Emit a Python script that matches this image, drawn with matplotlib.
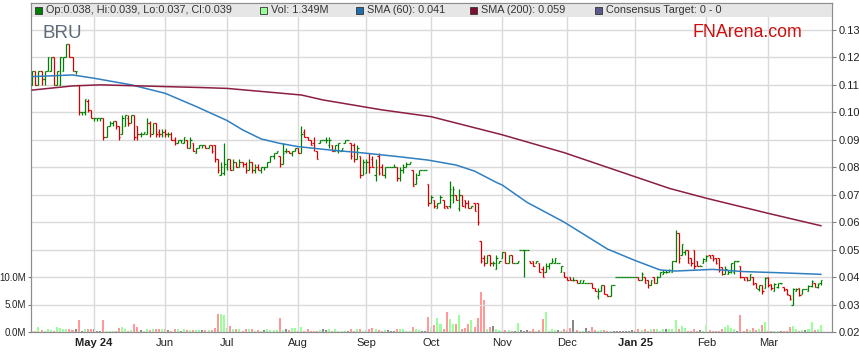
# -*- coding: utf-8 -*-
import numpy as np
import pandas as pd
import matplotlib
matplotlib.use('Agg')
import matplotlib.pyplot as plt
from matplotlib.collections import LineCollection
from matplotlib.patches import Rectangle

plt.rcParams['font.family'] = ['Liberation Sans', 'DejaVu Sans']

# trading days shown
days = pd.bdate_range('2024-04-03', '2025-03-26')

# OHLC in tenths of a cent (x 0.001 $), one row per month Apr 24 .. Mar 25
open_ = [110,115,110,115,112,115,115,120,110,110,115,120,125,120,115,110,100,100,104,101,
         98,98,98,98,91,95,96,97,95,92,95,98,96,99,95,92,92,92,96,92,96,93,92,
         93,92,92,90,89,90,89,90,87,89,85,87,88,88,87,88,88,83,77,78,
         80,83,79,82,80,82,81,79,82,79,80,79,80,80,82,84,85,84,81,86,86,85,86,
         87,85,93,91,90,89,86,89,90,90,88,88,86,86,86,89,90,89,88,83,84,77,
         78,82,83,77,84,80,77,80,80,80,80,76,79,80,81,79,74,77,79,79,74,
         67,68,65,67,68,66,66,70,70,65,70,68,67,65,67,67,53,47,45,48,45,43,45,
         47,49,45,48,45,45,50,50,50,46,46,45,45,43,42,44,45,45,45,42,42,
         40,40,39,39,38,38,38,38,38,36,33,35,37,34,33,37,40,40,40,40,40,40,
         40,40,39,40,39,37,40,38,40,41,42,42,42,46,56,48,49,50,47,50,46,44,45,
         46,48,48,47,47,43.8,41,41,42,42,46,44,40,40,39,40,37.7,35.5,37,36,
         40,37.5,35,36.5,37.7,36.5,35.5,33.5,30,35,36,34,35.5,35,36.7,38,36.5,38]
high = [115,115,115,115,115,120,120,120,115,120,120,125,125,120,115,110,100,105,105,101,
        98,98,98,98,95,97,97,97,95,99,99,99,99,99,95,93,93,98,97,96,96,94,94,
        94,93,93,91,90,90,91,90,91,89,87,88,88,88,88,88,88,83,82,89,
        83,83,83,82,83,82,82,83,82,81,81,80,80,82,84,85,86,84,89,87,86,86,87,
        87,95,94,91,90,91,86,90,90,91,91,88,88,89,87,90,90,89,89,88,84,83,
        83,85,84,83,85,81,80,80,80,81,80,80,81,82,82,79,78,79,79,79,74,
        70,68,67,70,68,66,75,73,70,72,70,68,68,66,67,67,53,48,48,48,46,48,46,
        49,49,48,48,45,46,50,50,50,46,46,46,45,44,45,45,47,47,45,44,42,
        40,40,40,39,39,39,38,38,38,36,36,37,37,34,37,37,40,40,40,40,40,40,
        40,40,42,40,39,39,40,40.5,42,42.5,42.5,43,46,57,56,52,50,50,47,50,46,44.5,46.8,
        48,48,48,47,47,43.8,44,42.5,45,46,46,44,40,40,41,40,37.7,37,37,40,
        40,37.5,37.7,37.7,37.7,36.5,35.5,33.5,36,36,36,35.5,35.5,37,38.9,38,38,39]
low = [110,110,110,110,110,115,115,110,110,110,115,120,120,115,114,99,99,99,100,98,
       97,97,97,90,91,95,95,94,90,92,95,95,96,90,90,91,92,92,91,92,91,91,91,
       91,91,90,88,89,89,89,87,87,86,85,87,87,87,87,85,82,78,77,77,
       79,79,79,80,80,80,78,79,78,78,79,78,79,80,82,83,85,80,81,85,85,84,86,
       85,85,91,90,88,86,83,89,90,89,87,86,86,85,86,89,90,83,82,83,76,77,
       78,78,80,75,77,77,76,80,80,80,75,75,78,80,81,73,74,77,79,79,66,
       67,65,65,67,65,65,65,67,68,64,66,65,65,65,64,59,45,44,45,44,44,43,45,
       47,45,45,45,45,45,50,40,50,45,44,45,42,40,42,43,45,45,45,42,40,
       39,39,38.5,38,38,38,38,38,36,35,32,35,34,33,33,37,40,40,40,40,40,40,
       40,39,39,38,36,37,38,38,40,41,41.5,42,42,45.5,45,48,48,45,44,43,44,44,45,
       46,46.8,46,44.8,42,40.7,41,41,41.5,41,45.5,39.5,39,38.7,39,37,36,35,34,36,
       36.5,35.3,35,36,37.5,35,33.5,31.6,29.8,35,33,34,35.5,35,36.5,36.3,36,37]
close = [115,110,115,112,115,120,120,110,115,120,120,125,120,115,115,100,100,105,101,98,
         98,98,98,91,95,96,97,95,91,98,99,96,99,91,92,92,93,96,92,96,92,92,93,
         92,92,90,89,90,90,91,87,90,86,87,88,88,87,88,86,83,79,80,81,
         83,79,82,80,82,81,79,82,79,80,79,80,80,82,84,85,86,81,85,86,85,86,87,
         85,92,91,90,88,87,83,90,90,90,90,86,88,89,87,90,90,84,83,87,77,82,
         82,80,80,80,78,77,80,80,80,80,76,79,80,81,82,73,76,79,79,79,67,
         69,66,67,69,65,65,72,72,68,70,66,67,65,66,64,60,46,45,48,45,45,47,46,
         49,45,48,45,45,46,50,50,50,45,44,46,42,40,44,45,46,47,45,44,40,
         39,39,39,38,39,39,38,38,36,35,35,37,34,33,37,37,40,40,40,40,40,40,
         40,39,41,38,37,39,38,40,42,42,42,42.5,46,56,47,52,50,45,45,44,44,44,46.5,
         47.5,47,46.5,45,42.5,41,43,42,45,46,46,40,39,39,41,37.5,36,37,35,39.5,
         37,36,37.5,37.7,37.7,35.2,34,32,35.5,35.8,33.5,35.5,35.5,36.7,38.5,36.5,37.5,39]

# volume, millions of shares
volume = [0.1,0.1,0.85,0.3,0.1,0.5,0.3,0.25,0.85,0.67,0.5,0.5,0.5,0.3,0.5,2.1,0.1,0.5,0.5,0.5,
          0.5,0.1,0.1,2.1,0.25,0.1,0.1,0.25,0.67,1.0,0.6,0.25,0.3,1.5,0.85,0.3,0.25,0.6,0.4,0.5,0.5,0.5,0.5,
          0.5,0.3,0.25,0.6,0.6,0.1,0.5,0.35,0.4,0.3,0.3,0.4,0.3,0.3,0.4,0.4,0.67,3.3,3.3,3.1,
          0.8,1.1,0.6,0.6,0.5,0.1,0.5,0.6,0.5,0.1,0.3,0.25,0.3,0.6,0.3,0.3,0.35,2.6,0.4,0.5,0.3,0.8,0.8,
          0.25,0.9,0.1,0.6,0.1,0.25,0.25,0.3,0.6,0.3,0.6,0.25,0.6,0.25,0.1,0.1,0.25,0.5,0.1,0.6,0.5,0.1,
          0.3,0.5,0.8,0.6,0.3,0.25,0.35,0.35,0.25,0.1,0.5,0.5,0.6,0.25,0.1,1.0,0.6,0.3,0.1,0.1,2.8,
          0.85,1.3,2.6,1.45,0.55,3.7,2.4,1.45,1.45,3.1,0.55,0.8,1.45,2.1,0.9,2.6,7.3,5.9,0.6,0.9,1.15,0.6,0.3,
          0.1,0.3,0.3,0.25,0.1,1.6,0.3,0.1,0.4,0.1,0.55,0.1,0.4,2.4,3.7,0.1,0.6,0.3,0.3,0.1,0.6,
          0.4,0.8,2.1,0.3,0.25,0.1,0.65,0.1,1.0,0.3,0.1,0.4,0.4,0.1,0.25,0.1,0.1,0.1,0.1,0.1,0.1,0.4,
          0.1,0.6,0.4,0.6,0.1,0.6,0.6,0.6,0.1,0.5,0.6,0.6,0.6,2.1,0.6,1.1,0.7,0.25,0.1,0.6,0.1,0.3,0.1,
          1.3,0.3,0.25,0.25,0.25,0.6,1.0,1.3,0.7,0.6,0.1,3.1,0.25,0.5,0.4,0.7,0.3,0.55,1.3,1.9,
          0.25,0.25,0.25,0.1,0.25,0.1,0.1,1.0,1.15,0.5,0.1,0.35,0.35,0.5,1.8,0.3,0.6,1.35]

# moving averages (bar number, tenths of a cent)
sma60_bar = [0,13,20,32,43,53,63,68,74,80,86,96,107,118,128,137,143,150,152,160,172,186,195,203,208,220,230,241,255]
sma60 = [113.0,113.6,112.4,110.0,106.9,102.1,97.0,93.6,90.3,88.7,87.5,86.3,85.2,83.9,82.6,80.8,78.6,74.5,73.5,67.2,60.0,50.2,46.0,42.6,42.2,42.8,42.0,41.6,41.0]
sma200_bar = [0,13,22,55,63,87,94,113,129,152,172,206,218,238,255]
sma200 = [108.1,109.6,110.0,109.0,108.7,106.3,104.5,100.9,98.4,91.8,85.3,72.3,68.7,63.2,58.7]

price_ticks = [0.02,0.03,0.04,0.05,0.06,0.07,0.08,0.09,0.10,0.11,0.12,0.13]
vol_ticks = [0, 5, 10]
vol_labels = ['0.0M', '5.0M', '10.0M']

up, down = '#008000', '#d40000'

o, h, l, c = [np.array(a) / 1000 for a in (open_, high, low, close)]
x = np.arange(len(days))

W, H = 859, 363
fig = plt.figure(figsize=(W / 100, H / 100), dpi=100)
ax = fig.add_axes([31 / W, 31 / H, 801 / W, 329 / H])
axv = ax.twinx()
ax.set_zorder(axv.get_zorder() + 1)
ax.patch.set_visible(False)

# volume
vcol = np.where(c > o, '#99ff99', np.where(c < o, '#ff9999', '#888888'))
axv.bar(x, volume, width=0.65, color=vcol, linewidth=0)
axv.set_ylim(0, 329 / 5.5)
axv.yaxis.tick_left()
axv.set_yticks(vol_ticks)
axv.set_yticklabels(vol_labels)

# OHLC bars
segs, cols = [], []
for i in x:
    col = up if c[i] >= o[i] else down
    segs += [[(i, l[i]), (i, h[i])], [(i - 0.5, o[i]), (i, o[i])], [(i, c[i]), (i + 0.5, c[i])]]
    cols += [col] * 3
ax.add_collection(LineCollection(segs, colors=cols, linewidths=0.9, zorder=3))

ax.plot(sma60_bar, np.array(sma60) / 1000, color='#2f7fc1', lw=1.1, zorder=4)
ax.plot(sma200_bar, np.array(sma200) / 1000, color='#8b1e41', lw=1.1, zorder=4)

ax.set_xlim(-0.42, 258.6)
ax.set_ylim(0.02, 0.1398)
ax.yaxis.tick_right()
ax.set_yticks(price_ticks)
ax.set_yticklabels(['%.2f' % t for t in price_ticks])

# month ticks at first trading day of each month
first = pd.Series(x, index=days).groupby(days.to_period('M')).first().iloc[1:]
ticks, labels = [], []
for per, i in first.items():
    ticks.append(i)
    labels.append(per.strftime('%b %y') if (per.month == 1 or len(ticks) == 1) else per.strftime('%b'))
ax.set_xticks(ticks)
ax.set_xticklabels(labels)
for t in ax.get_xticklabels():
    if ' ' in t.get_text():
        t.set_fontweight('bold')

ax.set_axisbelow(True)
ax.grid(True, color='#d9d9d9', lw=1)
ax.axhspan(0.1347, 0.1398, facecolor='#e6e6e6', edgecolor='none', zorder=2)

for a in (ax, axv):
    for s in a.spines.values():
        s.set_color('#8c8c8c')
ax.tick_params(axis='y', length=3, width=0.8, color='#808080', labelsize=8, labelcolor='#222222', pad=1.5)
axv.tick_params(axis='y', length=2.5, width=0.8, color='#808080', labelsize=7.0, labelcolor='#222222', pad=0.8)
ax.tick_params(axis='x', length=0, labelsize=8, labelcolor='#222222', pad=4)

# header legend
legend_items = [(35, '#008000', 'Op:0.038, Hi:0.039, Lo:0.037, Cl:0.039'),
                (260, '#99ff99', 'Vol: 1.349M'),
                (356, '#1f6fae', 'SMA (60): 0.041'),
                (470, '#7f0f2f', 'SMA (200): 0.059'),
                (595, '#5a5a8c', 'Consensus Target: 0 - 0')]
for px, fc, txt in legend_items:
    fig.add_artist(Rectangle((px / W, 1 - 13.5 / H), 7 / W, 7 / H, transform=fig.transFigure,
                             facecolor=fc, edgecolor='#333333', lw=0.6, zorder=20))
    fig.text((px + 11) / W, 1 - 10.3 / H, txt, fontsize=7.8, color='#333333', va='center', zorder=20)

fig.text(42 / W, 1 - 38 / H, 'BRU', fontsize=13.5, color='#5f6b78', va='baseline', zorder=20)
fig.text(692 / W, 1 - 37 / H, 'FNArena.com', fontsize=12.8, color='#cc1010', va='baseline', zorder=20)

fig.savefig('out.png', dpi=100)
